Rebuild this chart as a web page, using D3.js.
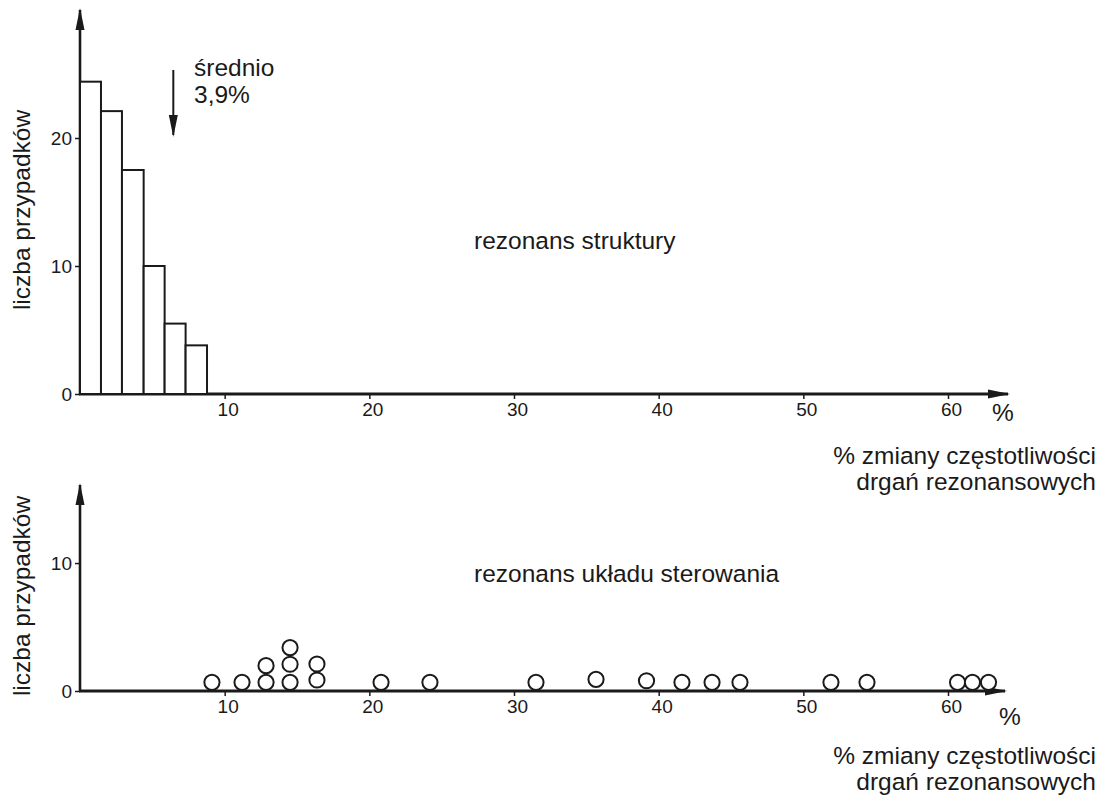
<!DOCTYPE html>
<html>
<head>
<meta charset="utf-8">
<script src="https://cdn.jsdelivr.net/npm/d3@7"></script>
<style>
  body { margin: 0; background: #fff; }
  text { font-family: "Liberation Sans", Arial, sans-serif; fill: #1a1a1a; }
</style>
</head>
<body>
<svg id="chart" width="1105" height="798"></svg>
<script>
// top panel: histogram of resonance frequency change, structure resonance
const binEdges = [0, 1.45, 2.9, 4.4, 5.85, 7.3, 8.78];
const binCounts = [24.4, 22.1, 17.5, 10, 5.5, 3.8];
const meanArrowAt = 6.45;

// bottom panel: individual cases, control system resonance (stacked circles)
const pointX = [9.12, 11.2, 12.86, 12.86, 14.52, 14.52, 14.52, 16.38, 16.38,
                20.81, 24.19, 31.52, 35.67, 39.16, 41.61, 43.69, 45.62,
                51.91, 54.4, 60.66, 61.69, 62.8];
const pointY = [0.68, 0.68, 0.68, 1.98, 0.68, 2.09, 3.39, 0.86, 2.11,
                0.68, 0.68, 0.68, 0.91, 0.8, 0.68, 0.68, 0.68,
                0.68, 0.68, 0.68, 0.68, 0.68];

const xTicks = [10, 20, 30, 40, 50, 60];
const topYTicks = [0, 10, 20];
const bottomYTicks = [0, 10];

const svg = d3.select("#chart");
const ink = "#1a1a1a";
const labelSize = 24.5;

const x = d3.scaleLinear().domain([0, 60]).range([80, 948]);
const yTop = d3.scaleLinear().domain([0, 30]).range([394, 10]);
const yBot = d3.scaleLinear().domain([0, 16.1]).range([691, 485]);

// filled arrow heads
const defs = svg.append("defs");
defs.append("marker")
    .attr("id", "arrow")
    .attr("markerUnits", "userSpaceOnUse")
    .attr("viewBox", "0 -5 22 10")
    .attr("refX", 20).attr("refY", 0)
    .attr("markerWidth", 22).attr("markerHeight", 10)
    .attr("orient", "auto")
  .append("path")
    .attr("d", "M0,-4.5L22,0L0,4.5Z")
    .attr("fill", ink);

function panel(y, yTicks, xEnd, pctPos, titleGap) {
    const g = svg.append("g");

    const xAxis = g.append("g")
        .attr("transform", `translate(0,${y(0)})`)
        .call(d3.axisBottom(x).tickValues(xTicks).tickSize(5).tickSizeOuter(0).tickPadding(4));
    xAxis.select(".domain").remove();
    xAxis.selectAll("line").attr("stroke", ink).attr("stroke-width", 1.5);
    xAxis.selectAll("text")
        .attr("font-size", 19)
        .attr("dx", 3)
        .style("font-family", null);

    const yAxis = g.append("g")
        .attr("transform", `translate(${x(0)},0)`)
        .call(d3.axisLeft(y).tickValues(yTicks).tickSize(5).tickSizeOuter(0).tickPadding(3));
    yAxis.select(".domain").remove();
    yAxis.selectAll("line").attr("stroke", ink).attr("stroke-width", 1.5);
    yAxis.selectAll("text")
        .attr("font-size", 19)
        .style("font-family", null);

    // axis lines with arrows
    g.append("line")
        .attr("x1", x(0) - 1).attr("x2", xEnd)
        .attr("y1", y(0)).attr("y2", y(0))
        .attr("stroke", ink).attr("stroke-width", 2.8)
        .attr("marker-end", "url(#arrow)");
    g.append("line")
        .attr("x1", x(0)).attr("x2", x(0))
        .attr("y1", y(0) + 1).attr("y2", y.range()[1])
        .attr("stroke", ink).attr("stroke-width", 2.6)
        .attr("marker-end", "url(#arrow)");

    g.append("text")
        .attr("x", pctPos[0]).attr("y", y(0) + pctPos[1])
        .attr("font-size", labelSize)
        .text("%");

    const lines = ["% zmiany częstotliwości", "drgań rezonansowych"];
    g.append("text")
        .attr("text-anchor", "end")
        .attr("font-size", labelSize)
        .selectAll("tspan")
        .data(lines)
        .join("tspan")
        .attr("x", 1096)
        .attr("y", (d, i) => y(0) + titleGap + i * 26)
        .text(d => d);

    g.append("text")
        .attr("transform", `translate(30,${(y(0) + y.range()[1]) / 2 + 8}) rotate(-90)`)
        .attr("text-anchor", "middle")
        .attr("font-size", labelSize)
        .text("liczba przypadków");

    return g;
}

// ---- top panel
const topPanel = panel(yTop, topYTicks, 1008, [992, 27], 70);

topPanel.append("g")
    .selectAll("rect")
    .data(binCounts)
    .join("rect")
    .attr("x", (d, i) => x(binEdges[i]))
    .attr("width", (d, i) => x(binEdges[i + 1]) - x(binEdges[i]))
    .attr("y", d => yTop(d))
    .attr("height", d => yTop(0) - yTop(d))
    .attr("fill", "#fff")
    .attr("stroke", ink)
    .attr("stroke-width", 2);

topPanel.append("line")
    .attr("x1", x(meanArrowAt)).attr("x2", x(meanArrowAt))
    .attr("y1", 70).attr("y2", 135)
    .attr("stroke", ink).attr("stroke-width", 2)
    .attr("marker-end", "url(#arrow)");

topPanel.append("text")
    .attr("font-size", labelSize)
    .selectAll("tspan")
    .data(["średnio", "3,9%"])
    .join("tspan")
    .attr("x", 194)
    .attr("y", (d, i) => 76 + i * 27)
    .text(d => d);

topPanel.append("text")
    .attr("x", 474).attr("y", 249)
    .attr("font-size", labelSize)
    .text("rezonans struktury");

// ---- bottom panel
const bottomPanel = panel(yBot, bottomYTicks, 1005, [999, 34], 73);

bottomPanel.append("text")
    .attr("x", 474).attr("y", 582)
    .attr("font-size", labelSize)
    .text("rezonans układu sterowania");

bottomPanel.append("g")
    .selectAll("circle")
    .data(pointX)
    .join("circle")
    .attr("cx", d => x(d))
    .attr("cy", (d, i) => yBot(pointY[i]))
    .attr("r", 7.6)
    .attr("fill", "#fff")
    .attr("stroke", ink)
    .attr("stroke-width", 2);
</script>
</body>
</html>
